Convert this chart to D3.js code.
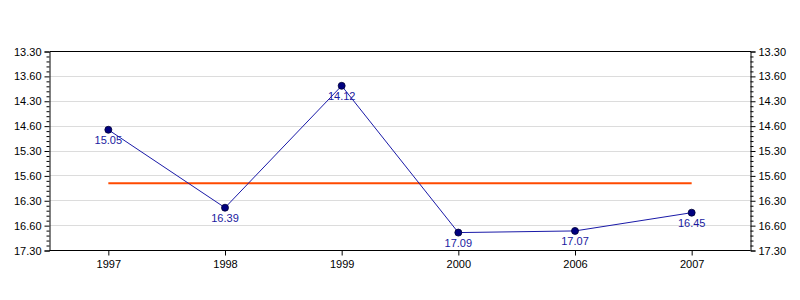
<!DOCTYPE html>
<html>
<head>
  <meta charset="utf-8">
  <title>chart</title>
  <style>
    body { margin: 0; background: #fff; }
    svg { display: block; font-family: "Liberation Sans", Arial, sans-serif; }
  </style>
  <script src="https://cdn.jsdelivr.net/npm/d3@7"></script>
</head>
<body>
<script>
  // categories and values (minutes.seconds)
  var years = ['1997', '1998', '1999', '2000', '2006', '2007'];
  var times = [15.05, 16.39, 14.12, 17.09, 17.07, 16.45];
  var timeLabels = ['15.05', '16.39', '14.12', '17.09', '17.07', '16.45'];
  // axis ticks (every 30 seconds from 13:30 to 17:30)
  var tickValues = [13.30, 14.00, 14.30, 15.00, 15.30, 16.00, 16.30, 17.00, 17.30];
  var tickLabels = ['13.30', '13.60', '14.30', '14.60', '15.30', '15.60', '16.30', '16.60', '17.30'];

  // m.ss -> seconds
  function secs(v) {
    var m = Math.floor(v + 1e-9);
    return m * 60 + Math.round((v - m) * 100);
  }

  var W = 800, H = 300;
  var plotL = 50, plotR = 750, plotT = 51, plotB = 250;

  var svg = d3.select('body').append('svg').attr('width', W).attr('height', H);

  var x = d3.scalePoint().domain(years).range([plotL, plotR]).padding(0.5);
  var y = d3.scaleLinear()
    .domain([secs(tickValues[0]), secs(tickValues[tickValues.length - 1])])
    .range([plotT, plotB]);

  var majorSecs = tickValues.map(secs);
  var minorSecs = d3.range(majorSecs[0], majorSecs[majorSecs.length - 1] + 1, 6)
    .filter(s => majorSecs.indexOf(s) < 0);

  // grid lines
  svg.append('g').selectAll('line')
    .data(majorSecs.slice(1, -1))
    .enter().append('line')
    .attr('x1', plotL).attr('x2', plotR)
    .attr('y1', d => Math.round(y(d)) + 0.5).attr('y2', d => Math.round(y(d)) + 0.5)
    .attr('stroke', '#dcdcdc');

  // top border
  svg.append('line')
    .attr('x1', plotL).attr('x2', plotR + 1)
    .attr('y1', plotT + 0.5).attr('y2', plotT + 0.5)
    .attr('stroke', '#000');

  function fmt(d) { return tickLabels[majorSecs.indexOf(d)]; }

  // left axis
  var gl = svg.append('g').attr('transform', 'translate(' + (plotL - 0.5) + ',0.5)');
  gl.call(d3.axisLeft(y).tickValues(majorSecs).tickFormat(fmt).tickSize(5).tickPadding(3));
  gl.append('g').call(d3.axisLeft(y).tickValues(minorSecs).tickFormat('').tickSize(3))
    .select('.domain').remove();

  // right axis
  var gr = svg.append('g').attr('transform', 'translate(' + (plotR + 0.5) + ',0.5)');
  gr.call(d3.axisRight(y).tickValues(majorSecs).tickFormat(fmt).tickSize(5).tickPadding(3));
  gr.append('g').call(d3.axisRight(y).tickValues(minorSecs).tickFormat('').tickSize(3))
    .select('.domain').remove();

  // bottom axis
  var gb = svg.append('g').attr('transform', 'translate(0,' + (plotB + 0.5) + ')');
  gb.call(d3.axisBottom(x).tickSize(5).tickPadding(5).tickSizeOuter(0));
  gb.select('.domain').attr('d', 'M' + (plotL - 0.5) + ',0H' + (plotR + 0.5));

  svg.selectAll('.tick text')
    .attr('font-family', '"Liberation Sans", Arial, sans-serif')
    .attr('font-size', 11)
    .attr('fill', '#000');
  svg.selectAll('.domain, .tick line').attr('stroke', '#000');

  // average line
  var avg = d3.mean(times, secs);
  svg.append('line')
    .attr('x1', x(years[0])).attr('x2', x(years[years.length - 1]))
    .attr('y1', y(avg)).attr('y2', y(avg))
    .attr('stroke', '#ff4a00').attr('stroke-width', 2);

  var pts = years.map((yr, i) => ({ yr: yr, v: secs(times[i]), label: timeLabels[i] }));

  // series line
  svg.append('path')
    .datum(pts)
    .attr('fill', 'none')
    .attr('stroke', '#1a1aa8')
    .attr('stroke-width', 1)
    .attr('d', d3.line().x(d => x(d.yr)).y(d => y(d.v)));

  // markers
  svg.selectAll('circle.pt')
    .data(pts).enter().append('circle')
    .attr('class', 'pt')
    .attr('cx', d => x(d.yr)).attr('cy', d => y(d.v))
    .attr('r', 3.5)
    .attr('fill', '#000080').attr('stroke', '#000033').attr('stroke-width', 0.8);

  // value labels
  svg.selectAll('text.val')
    .data(pts).enter().append('text')
    .attr('class', 'val')
    .attr('x', d => x(d.yr)).attr('y', d => y(d.v) + 14)
    .attr('text-anchor', 'middle')
    .attr('font-size', 11)
    .attr('fill', '#1a1aa0')
    .text(d => d.label);
</script>
</body>
</html>
